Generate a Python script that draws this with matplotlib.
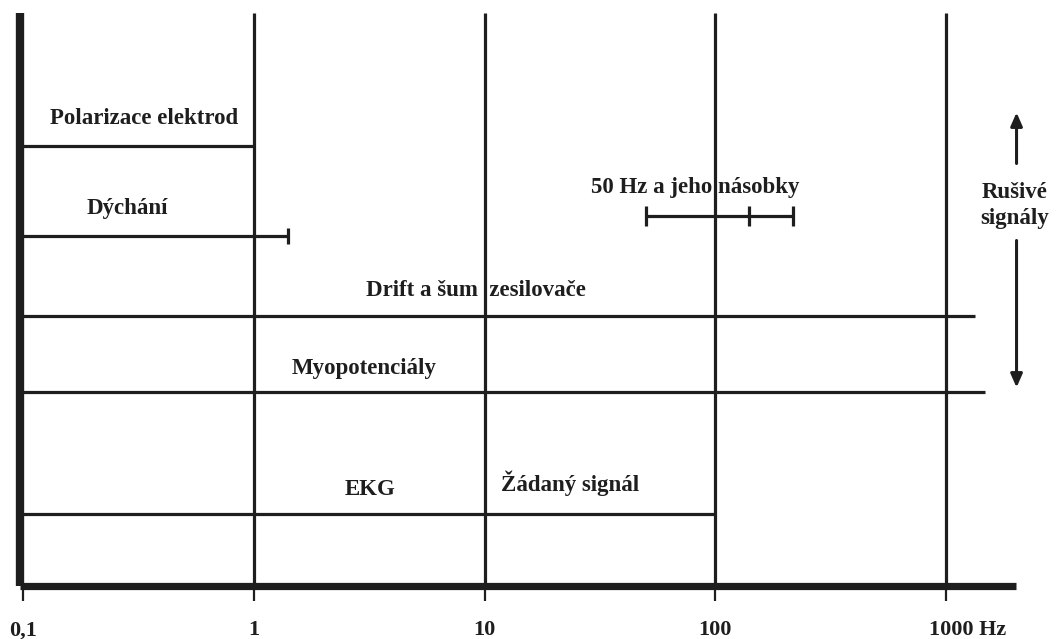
import matplotlib.pyplot as plt
from matplotlib.ticker import NullLocator
from matplotlib.transforms import ScaledTranslation

# =========================
# DATA
# =========================

# frequency bands (Hz): label, low, high
band_labels = ["Polarizace elektrod", "Dýchání", "Drift a šum  zesilovače",
               "Myopotenciály", "EKG"]
band_low = [0.1, 0.1, 0.1, 0.1, 0.1]
band_high = [1, 1.41, 1340, 1480, 100]

# 50 Hz mains and its harmonics (end ticks)
mains_marks = [50, 140, 217]
mains_label = "50 Hz a jeho násobky"

grid_freqs = [1, 10, 100, 1000]
tick_freqs = [0.1, 1, 10, 100, 1000]
tick_labels = ["0,1", "1", "10", "100", "1000 Hz"]

# =========================
# LAYOUT
# =========================

band_rows = [440, 350, 270, 194, 72]      # vertical level of each band line
mains_row = 370
band_text = [(0.335, 467), (0.282, 377), (9.2, 295), (3.0, 217), (3.18, 96)]
mains_text = (81.7, 398)
wanted_text = (23.4, 102, "Žádaný signál")

INK = "#1e1e1e"
FS = 16.5

plt.rcParams["font.family"] = ["Liberation Serif", "DejaVu Serif"]
plt.rcParams["font.weight"] = "bold"

fig = plt.figure(figsize=(10.6, 6.39), dpi=100)
ax = fig.add_axes([20 / 1060, 1 - 585.5 / 639, 996 / 1060, 572.5 / 639])

ax.set_xscale("log")
ax.set_xlim(0.0971, 2009)
ax.set_ylim(0, 572.5)

for s in ["top", "right"]:
    ax.spines[s].set_visible(False)
ax.spines["left"].set_linewidth(6)
ax.spines["bottom"].set_linewidth(5.2)
for s in ["left", "bottom"]:
    ax.spines[s].set_color(INK)
    ax.spines[s].set_capstyle("butt")

ax.set_yticks([])
ax.xaxis.set_minor_locator(NullLocator())
ax.set_xticks(tick_freqs)
ax.set_xticklabels(tick_labels, fontsize=16, fontweight="bold", color=INK)
ax.tick_params(axis="x", direction="out", length=11, width=1.6,
               color=INK, pad=14)
last = ax.get_xticklabels()[-1]
last.set_horizontalalignment("left")
last.set_transform(last.get_transform()
                   + ScaledTranslation(-17 / 100, 0, fig.dpi_scale_trans))

line_kw = dict(color=INK, lw=2.3, solid_capstyle="butt")

# vertical decade lines
for f in grid_freqs:
    ax.axvline(f, **line_kw)

# bands
for lab, lo, hi, row, (tx, ty) in zip(band_labels, band_low, band_high,
                                      band_rows, band_text):
    ax.plot([lo, hi], [row, row], **line_kw)
    ax.text(tx, ty, lab, ha="center", va="center", fontsize=FS,
            fontweight="bold", color=INK)

# end tick of breathing band
ax.plot([band_high[1]] * 2, [band_rows[1] - 8, band_rows[1] + 8], **line_kw)

# mains interference
ax.plot([mains_marks[0], mains_marks[-1]], [mains_row] * 2, **line_kw)
for m in mains_marks:
    ax.plot([m, m], [mains_row - 10, mains_row + 10], **line_kw)
ax.text(mains_text[0], mains_text[1], mains_label, ha="center", va="center",
        fontsize=FS, fontweight="bold", color=INK)

ax.text(wanted_text[0], wanted_text[1], wanted_text[2], ha="center",
        va="center", fontsize=FS, fontweight="bold", color=INK)

# interference arrows on the right
ax.text(1989, 380, "Rušivé\nsignály", ha="center", va="center", fontsize=FS,
        fontweight="bold", color=INK, linespacing=1.3, clip_on=False)
arrow_kw = dict(arrowstyle="-|>,head_length=0.8,head_width=0.35", lw=2.2,
                color=INK, shrinkA=0, shrinkB=0)
ax.annotate("", xy=(2020, 473), xytext=(2020, 422), arrowprops=arrow_kw,
            annotation_clip=False)
ax.annotate("", xy=(2020, 198), xytext=(2020, 345), arrowprops=arrow_kw,
            annotation_clip=False)

fig.savefig("out.png", dpi=100)
